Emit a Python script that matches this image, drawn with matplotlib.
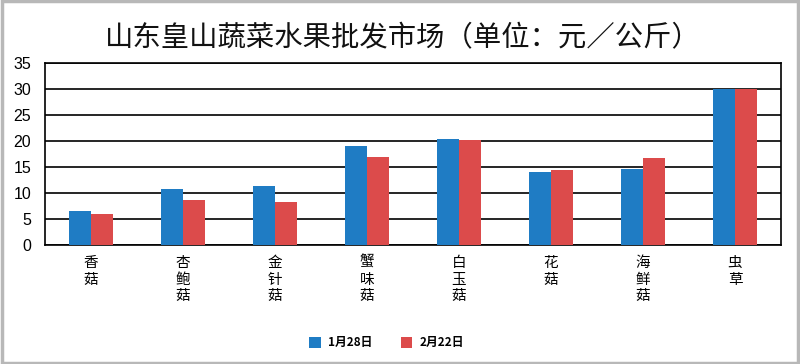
import matplotlib
matplotlib.use("Agg")
import matplotlib.pyplot as plt
from matplotlib.patches import Rectangle
import numpy as np

plt.rcParams['font.family'] = ['Noto Sans CJK SC', 'DejaVu Sans']

categories = ["香菇", "杏鲍菇", "金针菇", "蟹味菇", "白玉菇", "花菇", "海鲜菇", "虫草"]
series1_name = "1月28日"
series2_name = "2月22日"
series1 = [6.5, 10.7, 11.3, 19.0, 20.4, 14.0, 14.6, 30.0]
series2 = [6.0, 8.6, 8.3, 16.9, 20.2, 14.4, 16.8, 30.0]
yticks = [0, 5, 10, 15, 20, 25, 30, 35]
title = "山东皇山蔬菜水果批发市场（单位：元／公斤）"

blue = "#1f7cc4"
red = "#dc4b4b"

fig = plt.figure(figsize=(8, 3.64), dpi=100)
fig.patch.set_facecolor("white")
fig.add_artist(Rectangle((0.002, 0.003), 0.996, 0.993, transform=fig.transFigure,
                         fill=False, edgecolor="#b8b8b8", linewidth=2.5))

ax = fig.add_axes([0.05625, 0.327, 0.92, 0.5])
x = np.arange(len(categories))
w = 0.24
ax.bar(x - w / 2, series1, width=w, color=blue, zorder=3, label=series1_name)
ax.bar(x + w / 2, series2, width=w, color=red, zorder=3, label=series2_name)

ax.set_xlim(-0.5, len(categories) - 0.5)
ax.set_ylim(0, 35)
ax.set_yticks(yticks)
ax.set_yticklabels([str(v) for v in yticks], fontsize=11.5,
                   family=['Liberation Sans', 'DejaVu Sans'])
ax.yaxis.grid(True, color="black", linewidth=1.2, zorder=1)
ax.set_axisbelow(True)
for s in ax.spines.values():
    s.set_color("black")
    s.set_linewidth(1.2)
ax.tick_params(axis='y', length=0, pad=10)
ax.tick_params(axis='x', length=0, pad=8)
ax.set_xticks(x)
ax.set_xticklabels(["\n".join(list(c)) for c in categories], fontsize=10.5,
                   linespacing=1.22, va='top')

fig.text(0.503, 0.896, title, ha='center', va='center', fontsize=20.4,
         fontweight='medium', color="#111111")

leg = fig.legend(loc='center', bbox_to_anchor=(0.483, 0.058), ncol=2, frameon=False,
                 fontsize=8.5, handlelength=1.0, handleheight=1.0, columnspacing=2.4,
                 handletextpad=0.6)
for t in leg.get_texts():
    t.set_fontweight('bold')

fig.savefig("out.png", dpi=100, facecolor="white")
